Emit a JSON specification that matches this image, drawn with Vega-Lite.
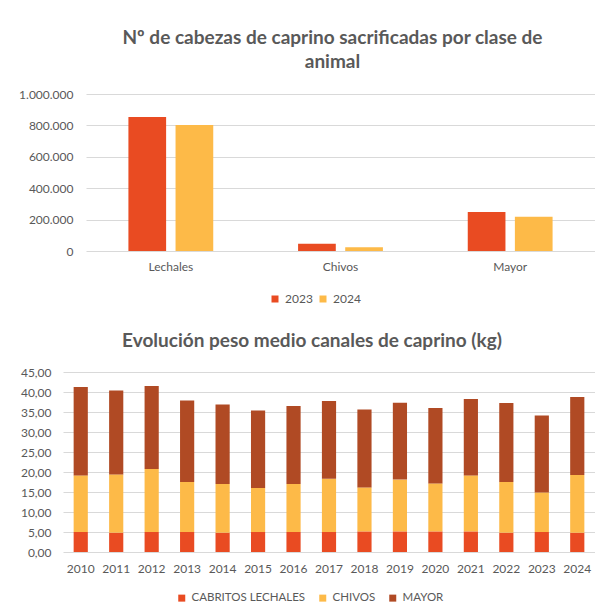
{
  "$schema": "https://vega.github.io/schema/vega-lite/v6.json",
  "background": "white",
  "padding": {"left": 18, "top": 29, "right": 0, "bottom": 0},
  "config": {
    "locale": {"number": {"decimal": ",", "thousands": ".", "grouping": [3], "currency": ["", " €"]}},
    "font": "Lato",
    "view": {"stroke": null},
    "axis": {"labelColor": "#595959", "labelFont": "Lato", "labelFontSize": 12, "gridColor": "#d9d9d9", "domain": false, "ticks": false, "title": null},
    "title": {"color": "#595959", "font": "Lato", "fontWeight": "bold", "fontSize": 19, "lineHeight": 24},
    "legend": {"labelColor": "#595959", "labelFont": "Lato", "labelFontSize": 12, "symbolType": "square", "symbolSize": 49, "labelOffset": 4, "title": null, "direction": "horizontal", "orient": "none", "symbolStrokeWidth": 0}
  },
  "resolve": {"scale": {"color": "independent"}, "legend": {"color": "independent"}},
  "columns": 1,
  "align": "none",
  "spacing": 27,
  "concat": [
    {
      "hconcat": [
        {
          "width": 23,
          "height": 157,
          "data": {"values": [{"v": 0}]},
          "mark": {"type": "point", "opacity": 0},
          "encoding": {}
        },
        {
          "width": 509,
          "height": 157,
          "title": {"text": ["Nº de cabezas de caprino sacrificadas por clase de", "animal"], "offset": 16, "dx": -8},
          "data": {"values": [
            {"clase": "Lechales", "anio": "2023", "cabezas": 853500},
            {"clase": "Lechales", "anio": "2024", "cabezas": 802500},
            {"clase": "Chivos", "anio": "2023", "cabezas": 46700},
            {"clase": "Chivos", "anio": "2024", "cabezas": 23300},
            {"clase": "Mayor", "anio": "2023", "cabezas": 248400},
            {"clase": "Mayor", "anio": "2024", "cabezas": 218500}
          ]},
          "mark": {"type": "bar"},
          "encoding": {
            "x": {"field": "clase", "type": "nominal", "sort": ["Lechales", "Chivos", "Mayor"], "scale": {"paddingInner": 0.5, "paddingOuter": 0.25}, "axis": {"labelAngle": 0, "labelPadding": 10, "grid": false}},
            "xOffset": {"field": "anio", "type": "nominal", "scale": {"paddingInner": 0.2, "paddingOuter": 0}},
            "y": {"field": "cabezas", "type": "quantitative", "scale": {"domain": [0, 1000000], "nice": false}, "axis": {"values": [0, 200000, 400000, 600000, 800000, 1000000], "format": ",.0f", "labelPadding": 13}},
            "color": {"field": "anio", "type": "nominal", "scale": {"domain": ["2023", "2024"], "range": ["#E94B22", "#FDBA48"]}, "legend": {"legendX": 206, "legendY": 199, "columnPadding": 4}}
          }
        }
      ],
      "spacing": 0,
      "bounds": "flush"
    },
    {
      "width": 532,
      "height": 180,
      "title": {"text": "Evolución peso medio canales de caprino (kg)", "offset": 15, "dx": -17},
      "data": {"values": [
        {"anio": "2010", "serie": "CABRITOS LECHALES", "peso": 5.0},
        {"anio": "2010", "serie": "CHIVOS", "peso": 14.15},
        {"anio": "2010", "serie": "MAYOR", "peso": 22.1},
        {"anio": "2011", "serie": "CABRITOS LECHALES", "peso": 4.83},
        {"anio": "2011", "serie": "CHIVOS", "peso": 14.57},
        {"anio": "2011", "serie": "MAYOR", "peso": 21.0},
        {"anio": "2012", "serie": "CABRITOS LECHALES", "peso": 5.0},
        {"anio": "2012", "serie": "CHIVOS", "peso": 15.75},
        {"anio": "2012", "serie": "MAYOR", "peso": 20.75},
        {"anio": "2013", "serie": "CABRITOS LECHALES", "peso": 5.0},
        {"anio": "2013", "serie": "CHIVOS", "peso": 12.5},
        {"anio": "2013", "serie": "MAYOR", "peso": 20.4},
        {"anio": "2014", "serie": "CABRITOS LECHALES", "peso": 4.83},
        {"anio": "2014", "serie": "CHIVOS", "peso": 12.17},
        {"anio": "2014", "serie": "MAYOR", "peso": 19.9},
        {"anio": "2015", "serie": "CABRITOS LECHALES", "peso": 5.0},
        {"anio": "2015", "serie": "CHIVOS", "peso": 11.0},
        {"anio": "2015", "serie": "MAYOR", "peso": 19.4},
        {"anio": "2016", "serie": "CABRITOS LECHALES", "peso": 5.0},
        {"anio": "2016", "serie": "CHIVOS", "peso": 12.0},
        {"anio": "2016", "serie": "MAYOR", "peso": 19.5},
        {"anio": "2017", "serie": "CABRITOS LECHALES", "peso": 5.0},
        {"anio": "2017", "serie": "CHIVOS", "peso": 13.3},
        {"anio": "2017", "serie": "MAYOR", "peso": 19.45},
        {"anio": "2018", "serie": "CABRITOS LECHALES", "peso": 5.15},
        {"anio": "2018", "serie": "CHIVOS", "peso": 11.0},
        {"anio": "2018", "serie": "MAYOR", "peso": 19.5},
        {"anio": "2019", "serie": "CABRITOS LECHALES", "peso": 5.15},
        {"anio": "2019", "serie": "CHIVOS", "peso": 12.95},
        {"anio": "2019", "serie": "MAYOR", "peso": 19.2},
        {"anio": "2020", "serie": "CABRITOS LECHALES", "peso": 5.15},
        {"anio": "2020", "serie": "CHIVOS", "peso": 12.0},
        {"anio": "2020", "serie": "MAYOR", "peso": 18.85},
        {"anio": "2021", "serie": "CABRITOS LECHALES", "peso": 5.15},
        {"anio": "2021", "serie": "CHIVOS", "peso": 14.0},
        {"anio": "2021", "serie": "MAYOR", "peso": 19.1},
        {"anio": "2022", "serie": "CABRITOS LECHALES", "peso": 4.83},
        {"anio": "2022", "serie": "CHIVOS", "peso": 12.67},
        {"anio": "2022", "serie": "MAYOR", "peso": 19.75},
        {"anio": "2023", "serie": "CABRITOS LECHALES", "peso": 5.0},
        {"anio": "2023", "serie": "CHIVOS", "peso": 9.9},
        {"anio": "2023", "serie": "MAYOR", "peso": 19.2},
        {"anio": "2024", "serie": "CABRITOS LECHALES", "peso": 4.83},
        {"anio": "2024", "serie": "CHIVOS", "peso": 14.42},
        {"anio": "2024", "serie": "MAYOR", "peso": 19.5}
      ]},
      "mark": {"type": "bar"},
      "encoding": {
        "x": {"field": "anio", "type": "nominal", "scale": {"paddingInner": 0.6, "paddingOuter": 0.3}, "axis": {"labelAngle": 0, "labelPadding": 11, "grid": false}},
        "y": {"field": "peso", "type": "quantitative", "aggregate": "sum", "stack": "zero", "scale": {"domain": [0, 45], "nice": false}, "axis": {"values": [0, 5, 10, 15, 20, 25, 30, 35, 40, 45], "format": ".2f", "labelPadding": 12}},
        "color": {"field": "serie", "type": "nominal", "sort": ["CABRITOS LECHALES", "CHIVOS", "MAYOR"], "scale": {"domain": ["CABRITOS LECHALES", "CHIVOS", "MAYOR"], "range": ["#E94B22", "#FDBA48", "#B04A24"]}, "legend": {"legendX": 113, "legendY": 220, "columnPadding": 11, "labelFontSize": 11.5}},
        "order": {"field": "serie", "sort": "ascending"}
      }
    }
  ]
}
